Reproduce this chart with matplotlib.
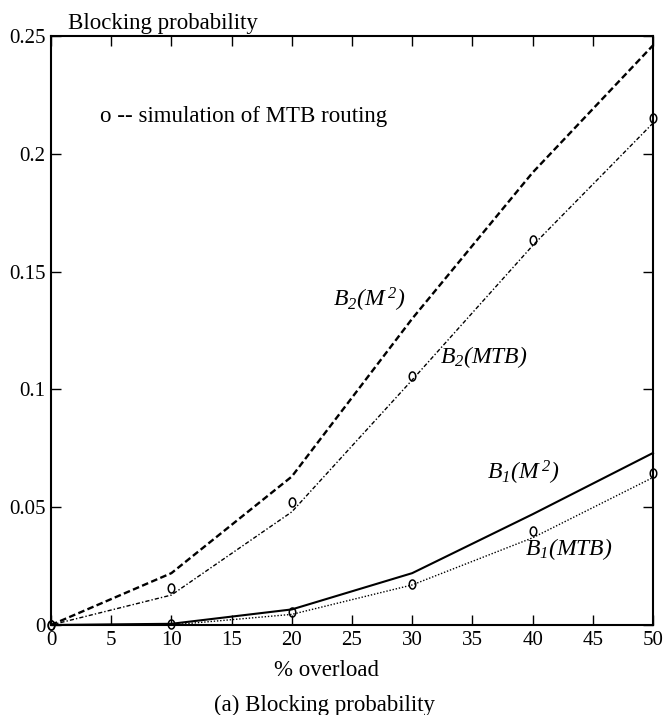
import numpy as np
import matplotlib
matplotlib.use("Agg")
import matplotlib.pyplot as plt
from matplotlib.path import Path

plt.rcParams['font.family'] = ['Liberation Serif', 'DejaVu Serif']
plt.rcParams['mathtext.fontset'] = 'custom'
plt.rcParams['mathtext.rm'] = 'Liberation Serif:italic'
plt.rcParams['mathtext.it'] = 'Liberation Serif:italic'

# Offered load above nominal (%)
overload = [0, 10, 20, 30, 40, 50]

# Analytical blocking probabilities
b2_m2 = [0, 0.022, 0.063, 0.130, 0.192, 0.246]
b2_mtb = [0, 0.0127, 0.048, 0.104, 0.161, 0.213]
b1_m2 = [0, 0.0005, 0.0066, 0.022, 0.047, 0.073]
b1_mtb = [0, 0.0, 0.0045, 0.017, 0.037, 0.0626]

# Simulated MTB routing results
sim_b2 = [0, 0.0157, 0.052, 0.1057, 0.1635, 0.215]
sim_b1 = [0, 0.0005, 0.0054, 0.0172, 0.0397, 0.0647]

xticks = [0, 5, 10, 15, 20, 25, 30, 35, 40, 45, 50]
yticks = [0, 0.05, 0.1, 0.15, 0.2, 0.25]
ytick_labels = ['0', '0.05', '0.1', '0.15', '0.2', '0.25']

fig = plt.figure(figsize=(6.64, 7.15), dpi=100)
ax = fig.add_axes([0.0768, 0.1259, 0.9066, 0.8238])

ax.plot(overload, b2_m2, color='black', lw=1.7, dashes=(2.8, 1.4), clip_on=False)
ax.plot(overload, b2_mtb, color='black', lw=1.0, dashes=(3.0, 1.5, 1.0, 1.5), clip_on=False)
ax.plot(overload, b1_m2, color='black', lw=1.5, linestyle='-', clip_on=False)
ax.plot(overload, b1_mtb, color='black', lw=1.0, dashes=(1.0, 1.3), clip_on=False)

# tall open "o" marker for the simulation points
t = np.linspace(0, 2 * np.pi, 48)
oval = Path(np.column_stack([0.36 * np.cos(t), 0.5 * np.sin(t)]))
for sim in (sim_b2, sim_b1):
    ax.plot(overload, sim, linestyle='none', marker=oval, markersize=6.5,
            markerfacecolor='none', markeredgecolor='black', markeredgewidth=1.1,
            clip_on=False, zorder=4)

ax.set_xlim(0, 50)
ax.set_ylim(0, 0.25)
ax.set_xticks(xticks)
ax.set_xticklabels([str(v) for v in xticks])
ax.set_yticks(yticks)
ax.set_yticklabels(ytick_labels)
ax.tick_params(direction='in', length=7, width=1.0, top=True, right=True,
               labelsize=15, pad=4)
for s in ax.spines.values():
    s.set_linewidth(1.5)

lab = dict(fontsize=17, color='black', va='center', ha='left')
ax.text(23.4, 0.138, r'$B_2(M^{\,2})$', **lab)
ax.text(32.3, 0.1136, r'$B_2(MTB)$', **lab)
ax.text(36.2, 0.0645, r'$B_1(M^{\,2})$', **lab)
ax.text(39.4, 0.0324, r'$B_1(MTB)$', **lab)

ax.text(4.1, 0.216, 'o -- simulation of MTB routing', fontsize=16.5,
        va='center', ha='left')

fig.text(68 / 664, 1 - 23 / 715, 'Blocking probability', fontsize=16.5,
         ha='left', va='center')
fig.text(326 / 664, 1 - 670 / 715, '% overload', fontsize=16.5,
         ha='center', va='center')
fig.text(324 / 664, 1 - 705 / 715, '(a) Blocking probability', fontsize=16.5,
         ha='center', va='center')

fig.savefig('out.png', dpi=100)
